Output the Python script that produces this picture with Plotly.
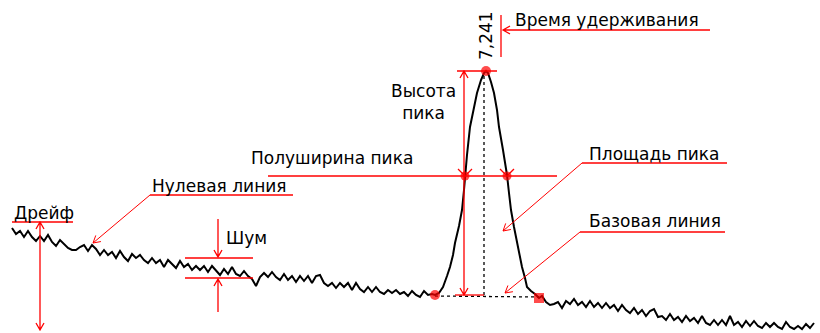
import math
import plotly.graph_objects as go

# ---------------- data (pixel-like units) ----------------
left_x = list(range(12, 433, 4))
left_y = [228, 234, 231, 237, 231, 237, 241, 236, 241, 235, 242, 246, 240, 244, 248, 250,
          250, 247, 245, 251, 245, 249, 255, 250, 255, 252, 258, 251, 257, 261, 254, 258,
          255, 260, 263, 258, 263, 260, 267, 260, 264, 268, 261, 267, 264, 270, 266, 270,
          266, 272, 266, 271, 275, 269, 274, 267, 274, 276, 271, 276, 279, 286, 277, 273,
          277, 272, 277, 280, 274, 280, 276, 282, 276, 281, 276, 283, 276, 275, 283, 286,
          283, 288, 283, 287, 283, 290, 283, 289, 292, 287, 292, 287, 292, 294, 290, 293,
          290, 294, 292, 296, 291, 295, 297, 291, 295, 294]

peak_x = [432, 435, 439, 443, 447, 450, 453, 455, 459, 462, 464, 465, 467, 470, 474, 477, 481,
          484, 486, 488, 491, 494, 497, 499, 503, 507, 509, 511, 514, 517, 520, 522, 525,
          527, 531, 535, 539, 542]
peak_y = [294, 295, 293, 287, 276, 267, 255, 243, 226, 210, 190, 176, 155, 127, 108, 93, 80,
          73, 71, 73, 82, 93, 110, 127, 150, 175, 193, 210, 227, 243, 256, 267, 278,
          287, 291, 294, 298, 296]

right_x = list(range(542, 815, 4))
right_y = [296, 302, 305, 304, 302, 308, 301, 304, 299, 305, 302, 307, 301, 307, 303, 308,
           303, 308, 305, 311, 305, 310, 313, 308, 314, 310, 316, 311, 309, 317, 316, 320,
           314, 320, 317, 322, 316, 321, 318, 323, 316, 323, 325, 320, 325, 320, 325, 316,
           325, 322, 327, 321, 326, 321, 326, 328, 323, 327, 323, 327, 329, 322, 327, 329,
           326, 329, 324, 328, 323]

peak_top = (486, 71)
base_left = (435, 295)
base_right = (539, 298)
half_left = (465, 176)
half_right = (507, 176)
retention_label = "7,241"

RED = "#ff0000"
FONT = "DejaVu Sans"
FS = 17

fig = go.Figure()

# signal trace
trace_x = left_x + peak_x + right_x
trace_y = left_y + peak_y + right_y
fig.add_trace(go.Scatter(x=trace_x, y=trace_y, mode="lines",
                         line=dict(color="black", width=2), hoverinfo="skip"))

# dotted construction lines
fig.add_trace(go.Scatter(x=[base_left[0], base_right[0]], y=[base_left[1] + 1, base_right[1] - 1],
                         mode="lines", line=dict(color="black", width=1.3, dash="dot"), hoverinfo="skip"))
fig.add_trace(go.Scatter(x=[484, 484], y=[76, 296], mode="lines",
                         line=dict(color="black", width=1.3, dash="dot"), hoverinfo="skip"))

shapes = []


def seg(x0, y0, x1, y1, head_end=False, head_start=False, width=1.3, L=7, W=4):
    p = f"M {x0} {y0} L {x1} {y1}"
    dx, dy = x1 - x0, y1 - y0
    d = math.hypot(dx, dy)
    ux, uy = dx / d, dy / d
    nx, ny = -uy, ux
    if head_end:
        bx, by = x1 - L * ux, y1 - L * uy
        p += f" M {bx + W * nx} {by + W * ny} L {x1} {y1} L {bx - W * nx} {by - W * ny}"
    if head_start:
        bx, by = x0 + L * ux, y0 + L * uy
        p += f" M {bx + W * nx} {by + W * ny} L {x0} {y0} L {bx - W * nx} {by - W * ny}"
    shapes.append(dict(type="path", path=p, xref="x", yref="y",
                       line=dict(color=RED, width=width)))


# retention time
seg(501, 15, 501, 57)
seg(710, 30, 503, 30, head_end=True)
# peak height
seg(457, 71, 497, 71)
seg(464, 71, 464, 295, head_end=True, head_start=True)
seg(455, 295, 484, 295)
# half width
seg(268, 176, 557, 176)
seg(458, 169, 464, 175)
seg(472, 169, 466, 175)
seg(500, 169, 506, 175)
seg(514, 169, 508, 175)
# peak area
seg(727, 163, 582, 163)
seg(582, 163, 503, 231, head_end=True, width=1)
# base line
seg(725, 232, 580, 232)
seg(580, 232, 505, 293, head_end=True, width=1)
# zero line
seg(293, 195, 150, 195)
seg(150, 195, 93, 243, head_end=True, width=1)
# drift
seg(12, 222, 73, 222)
seg(40, 222, 40, 330, head_end=True, head_start=True)
# noise
seg(218, 219, 218, 257, head_end=True)
seg(185, 258, 253, 258)
seg(185, 278, 253, 278)
seg(218, 312, 218, 279, head_end=True)

# red points
fig.add_trace(go.Scatter(x=[peak_top[0], base_left[0], base_right[0], half_left[0], half_right[0]],
                         y=[peak_top[1], base_left[1], base_right[1], half_left[1], half_right[1]],
                         mode="markers", marker=dict(color=RED, size=[10, 10, 10, 9, 9],
                                                     symbol=["circle", "circle", "square", "circle", "circle"],
                                                     line=dict(width=0)),
                         hoverinfo="skip"))

ann = []


def text(x, y, s, anchor="left", angle=0):
    ann.append(dict(x=x, y=y, xref="x", yref="y", text=s, showarrow=False,
                    xanchor=anchor, yanchor="middle", textangle=angle,
                    font=dict(family=FONT, size=FS, color="black")))


text(513, 20, "Время удерживания")
text(486, 36, retention_label, anchor="center", angle=-90)
text(389, 102, "Высота<br>пика")
text(249, 158, "Полуширина пика")
text(587, 154, "Площадь пика")
text(587, 221, "Базовая линия")
text(150, 186, "Нулевая линия")
text(12, 213, "Дрейф")
text(224, 238, "Шум")

fig.update_layout(width=820, height=333, margin=dict(l=0, r=0, t=0, b=0),
                  paper_bgcolor="white", plot_bgcolor="white", showlegend=False,
                  shapes=shapes, annotations=ann,
                  xaxis=dict(range=[0, 820], visible=False, fixedrange=True),
                  yaxis=dict(range=[333, 0], visible=False, fixedrange=True))

fig.write_html("out.html")
